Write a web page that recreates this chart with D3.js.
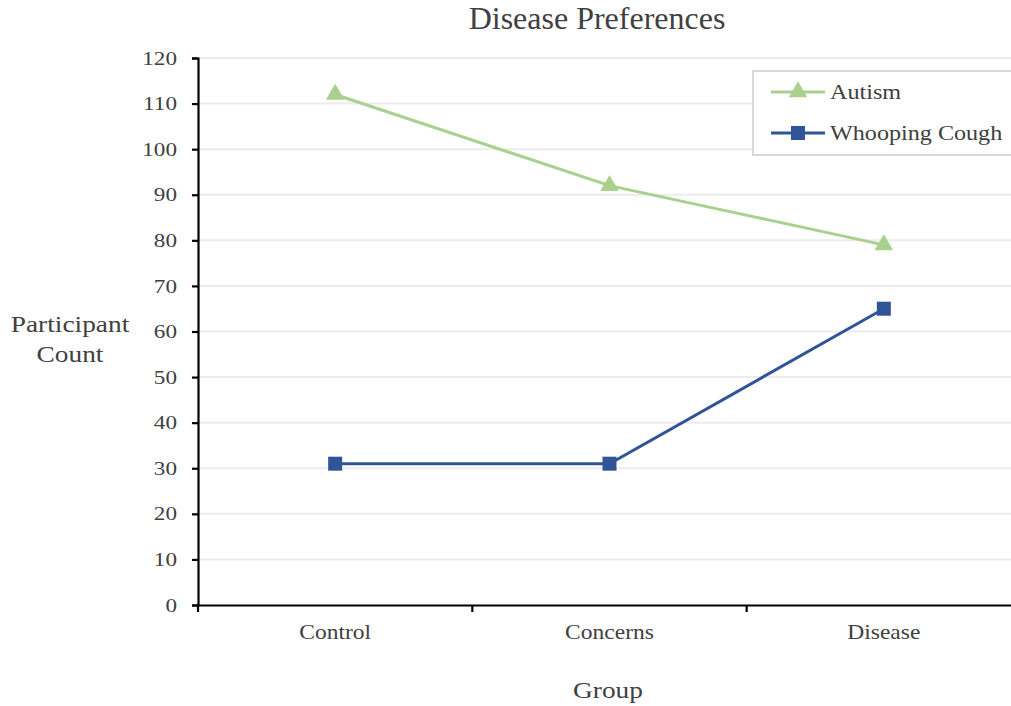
<!DOCTYPE html>
<html>
<head>
<meta charset="utf-8">
<script src="https://cdn.jsdelivr.net/npm/d3@7/dist/d3.min.js"></script>
<style>
  html, body { margin: 0; padding: 0; background: #fff; }
  svg text { font-family: "Liberation Serif", "DejaVu Serif", serif; }
</style>
</head>
<body>
<svg id="chart" width="1011" height="706" font-family="Liberation Serif"></svg>
<script>
const categories = ["Control", "Concerns", "Disease"];
const autism = [112, 92, 79];
const whoopingCough = [31, 31, 65];
const yTicks = [0, 10, 20, 30, 40, 50, 60, 70, 80, 90, 100, 110, 120];

const series = [
  { name: "Autism", values: autism, color: "#a9d18e", symbol: d3.symbolTriangle },
  { name: "Whooping Cough", values: whoopingCough, color: "#2f5597", symbol: d3.symbolSquare }
];

const svg = d3.select("#chart");
const plotLeft = 198, plotRight = 1021, plotTop = 58, plotBottom = 605;
const textColor = "#404040";

const x = d3.scaleBand().domain(categories).range([plotLeft, plotRight]);
const y = d3.scaleLinear().domain([0, 120]).range([plotBottom, plotTop]);

// text placed at (px, py), widened horizontally by sx
function label(parent, px, py, str, size, sx, anchor) {
  return parent.append("text")
    .attr("transform", `translate(${px},${py}) scale(${sx},1)`)
    .attr("text-anchor", anchor || "middle")
    .attr("font-size", size)
    .attr("fill", textColor)
    .text(str);
}

// gridlines
svg.append("g")
  .selectAll("line")
  .data(yTicks.filter(d => d > 0))
  .join("line")
  .attr("x1", plotLeft).attr("x2", 1011)
  .attr("y1", d => y(d)).attr("y2", d => y(d))
  .attr("stroke", "#ececec").attr("stroke-width", 2);

// y axis
const yAxis = svg.append("g")
  .attr("transform", `translate(${plotLeft},0)`)
  .call(d3.axisLeft(y).tickValues(yTicks).tickSize(6).tickPadding(15));
yAxis.select(".domain").attr("stroke", "#000").attr("stroke-width", 2.2);
yAxis.selectAll(".tick line").attr("stroke", "#000").attr("stroke-width", 2.2);
yAxis.selectAll(".tick text")
  .attr("font-size", 19).attr("fill", textColor)
  .attr("font-family", "Liberation Serif")
  .attr("transform", function () {
    const xa = +d3.select(this).attr("x");
    return `translate(${xa},0) scale(1.22,1) translate(${-xa},0)`;
  });

// x axis with ticks at band boundaries
const xAxis = svg.append("g")
  .attr("transform", `translate(0,${plotBottom})`)
  .call(d3.axisBottom(x).tickSize(0).tickPadding(19));
xAxis.select(".domain").attr("stroke", "#000").attr("stroke-width", 2.2);
xAxis.selectAll(".tick text")
  .attr("font-size", 21).attr("fill", textColor)
  .attr("font-family", "Liberation Serif")
  .attr("transform", "scale(1.12,1)");
xAxis.selectAll(".boundary")
  .data(categories.map(c => x(c)))
  .join("line")
  .attr("class", "boundary")
  .attr("x1", d => d).attr("x2", d => d)
  .attr("y1", 0).attr("y2", 7)
  .attr("stroke", "#000").attr("stroke-width", 2.2);

// series lines and markers
const line = d3.line()
  .x((d, i) => x(categories[i]) + x.bandwidth() / 2)
  .y(d => y(d));

const symbolSize = s => (s === d3.symbolSquare ? 196 : 150);

series.forEach(s => {
  svg.append("path")
    .datum(s.values)
    .attr("d", line)
    .attr("fill", "none")
    .attr("stroke", s.color)
    .attr("stroke-width", 3);
  svg.append("g")
    .selectAll("path")
    .data(s.values)
    .join("path")
    .attr("transform", (d, i) => `translate(${x(categories[i]) + x.bandwidth() / 2},${y(d)})`)
    .attr("d", d3.symbol().type(s.symbol).size(symbolSize(s.symbol)))
    .attr("fill", s.color);
});

// legend
const legend = svg.append("g");
legend.append("rect")
  .attr("x", 753).attr("y", 71).attr("width", 270).attr("height", 84)
  .attr("fill", "#fff").attr("stroke", "#d9d9d9").attr("stroke-width", 2);
series.forEach((s, i) => {
  const ly = 92 + i * 41;
  legend.append("line")
    .attr("x1", 771).attr("x2", 825).attr("y1", ly).attr("y2", ly)
    .attr("stroke", s.color).attr("stroke-width", 3);
  legend.append("path")
    .attr("transform", `translate(798,${ly})`)
    .attr("d", d3.symbol().type(s.symbol).size(symbolSize(s.symbol)))
    .attr("fill", s.color);
  label(legend, 830, ly + 7, s.name, 21, 1.15, "start");
});

// titles
label(svg, 597, 29, "Disease Preferences", 32, 1.0);
label(svg, 608, 698, "Group", 23, 1.19);
label(svg, 70, 332, "Participant", 23, 1.19);
label(svg, 70, 362, "Count", 23, 1.19);
</script>
</body>
</html>
